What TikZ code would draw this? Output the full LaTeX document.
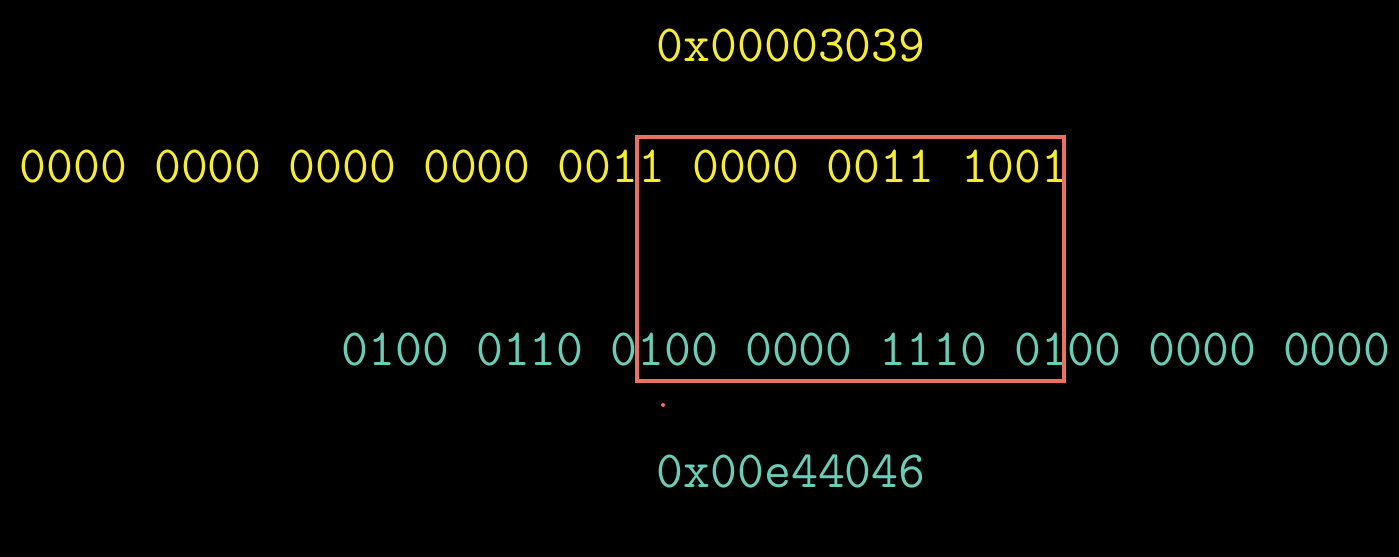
\documentclass[tikz,border=0pt]{standalone}
\usepackage{fontspec}
\usetikzlibrary{positioning}
\definecolor{byellow}{RGB}{248, 236, 48}
\definecolor{bteal}{RGB}{104, 206, 184}
\definecolor{bsalmon}{RGB}{236, 112, 96}
\tikzset{
  bitrow/.style={inner sep=0pt, anchor=base west, font=\ttfamily\fontsize{14.86}{17}\selectfont},
}
\begin{document}
\begin{tikzpicture}
      \useasboundingbox (0, 0) rectangle (13.99, 5.57);
      \fill [black] (0, 0) rectangle (13.99, 5.57);

      \node [bitrow, byellow] (hexin) at (6.56, 4.95) {0x00003039};
      \node [bitrow, byellow] (bits) at (0.19, 3.74) {0000 0000 0000 0000 0011 0000 0011 1001};

      \node [bitrow, bteal] (swapped) at (3.41, 1.91) {0100 0110 0100 0000 1110 0100 0000 0000};
      \node [bitrow, bteal] (hexout) at (6.56, 0.69) {0x00e44046};

      \coordinate (boxnw) at (6.37, 4.20);
      \coordinate (boxse) at (10.64, 1.76);
      \draw [bsalmon, line width=1pt] (boxnw) rectangle (boxse);
      \fill [bsalmon] (6.63, 1.52) circle (0.02);
    \end{tikzpicture}
\end{document}
